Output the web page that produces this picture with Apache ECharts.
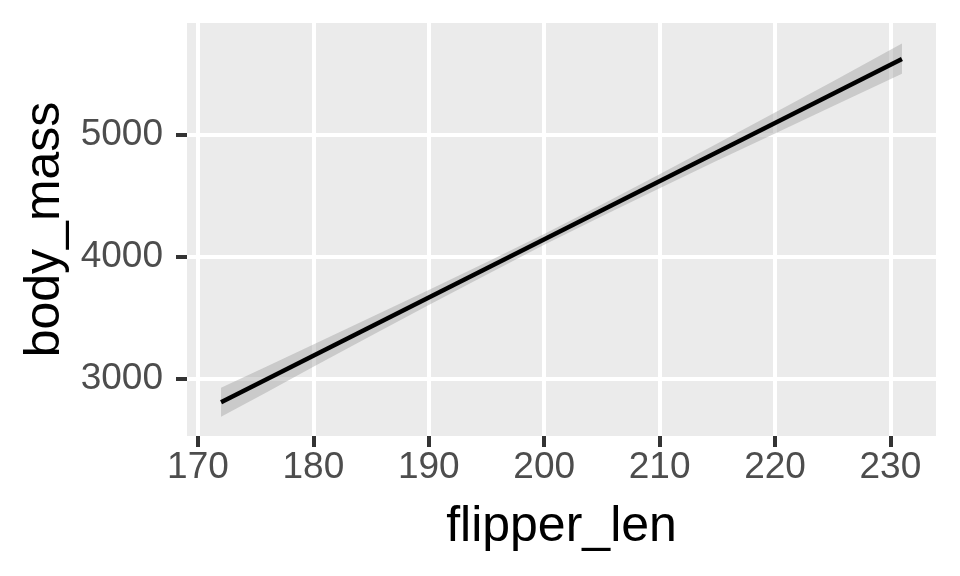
<!DOCTYPE html>
<html>
<head>
<meta charset="utf-8">
<script src="https://cdn.jsdelivr.net/npm/echarts@6/dist/echarts.min.js"></script>
<style>
html,body{margin:0;padding:0;background:#fff;}
#chart{width:960px;height:576px;}
</style>
</head>
<body>
<div id="chart"></div>
<script>
// Fitted line (endpoints)
const lineX = [172, 231];
const lineY = [2803, 5625];
// Confidence band
const bandX =     [172, 176, 180, 185, 190, 195, 200, 205, 210, 215, 220, 225, 231];
const bandLower = [2683, 2888, 3094, 3349, 3602, 3852, 4097, 4333, 4563, 4790, 5013, 5236, 5503];
const bandUpper = [2923, 3100, 3278, 3501, 3726, 3954, 4187, 4429, 4677, 4930, 5185, 5440, 5752];
const xTicks = [170, 180, 190, 200, 210, 220, 230];
const yTicks = [3000, 4000, 5000];
const xTitle = 'flipper_len';
const yTitle = 'body_mass';

const FONT = 'Arial, "Liberation Sans", sans-serif';
const chart = echarts.init(document.getElementById('chart'), null, {renderer: 'canvas'});

const option = {
  backgroundColor: '#ffffff',
  animation: false,
  grid: {left: 187, top: 23, right: 24, bottom: 140, show: true, backgroundColor: '#EBEBEB', borderWidth: 0},
  xAxis: {
    type: 'value', min: 169.05, max: 233.95,
    name: xTitle, nameLocation: 'middle', nameGap: 66,
    nameTextStyle: {fontFamily: FONT, fontSize: 50, color: '#000000'},
    axisLine: {show: false},
    axisTick: {show: true, length: 11, lineStyle: {color: '#333333', width: 4}, customValues: xTicks},
    axisLabel: {fontFamily: FONT, fontSize: 37, color: '#4D4D4D', margin: 13, customValues: xTicks,
      formatter: v => String(v)},
    splitLine: {show: true, lineStyle: {color: '#ffffff', width: 4}}
  },
  yAxis: {
    type: 'value', min: 2525.7, max: 5920.7,
    name: yTitle, nameLocation: 'middle', nameGap: 117, nameRotate: 90,
    nameTextStyle: {fontFamily: FONT, fontSize: 50, color: '#000000'},
    axisLine: {show: false},
    axisTick: {show: true, length: 11, lineStyle: {color: '#333333', width: 4}, customValues: yTicks},
    axisLabel: {fontFamily: FONT, fontSize: 37, color: '#4D4D4D', margin: 24, customValues: yTicks,
      formatter: v => String(v)},
    splitLine: {show: true, lineStyle: {color: '#ffffff', width: 4}}
  },
  series: [
    {
      type: 'custom',
      data: [[bandX[0], bandLower[0]]],
      renderItem: function (params, api) {
        const pts = [];
        for (let i = 0; i < bandX.length; i++) pts.push(api.coord([bandX[i], bandUpper[i]]));
        for (let i = bandX.length - 1; i >= 0; i--) pts.push(api.coord([bandX[i], bandLower[i]]));
        return {type: 'polygon', shape: {points: pts}, style: {fill: 'rgba(153,153,153,0.4)', stroke: null}};
      },
      silent: true, z: 2
    },
    {
      type: 'line',
      data: lineX.map((x, i) => [x, lineY[i]]),
      showSymbol: false,
      lineStyle: {color: '#000000', width: 4.5},
      silent: true, z: 3
    }
  ]
};
chart.setOption(option);
</script>
</body>
</html>
